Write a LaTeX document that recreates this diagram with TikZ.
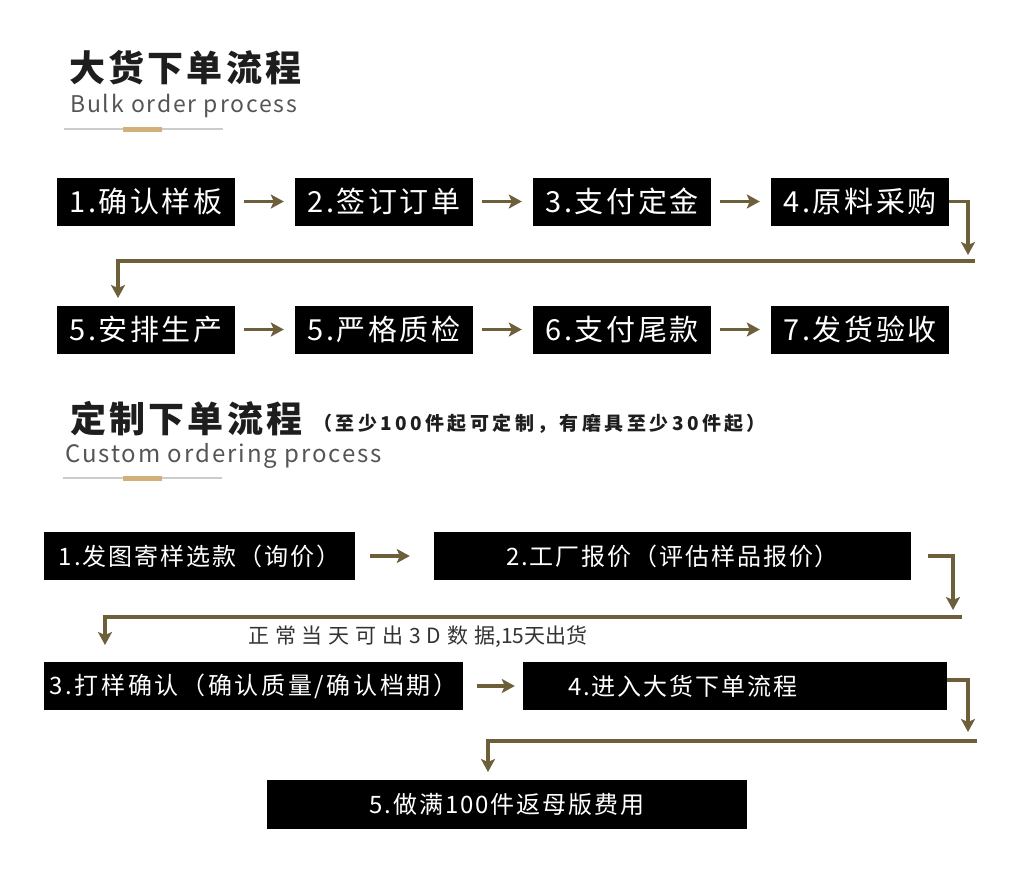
\documentclass[tikz,border=0pt]{standalone}
\usepackage{fontspec}
\usepackage{tikz}
\usetikzlibrary{arrows.meta}
\setmainfont{Noto Sans CJK SC}
\newfontfamily\titlefont[LetterSpace=9]{Noto Sans CJK SC}
\newfontfamily\subfont[LetterSpace=8]{Noto Sans CJK SC}
\newfontfamily\boxfont[LetterSpace=9]{Noto Sans CJK SC}
\newfontfamily\wideboxfont[LetterSpace=8]{Noto Sans CJK SC}
\newfontfamily\widerboxfont[LetterSpace=11]{Noto Sans CJK SC}
\newfontfamily\notefont[LetterSpace=28]{Noto Sans CJK SC}
\newfontfamily\parenfont[LetterSpace=18]{Noto Sans CJK SC}
\definecolor{flowbrown}{HTML}{6E5F3B}
\definecolor{titleblack}{HTML}{1E1E1E}
\definecolor{subgray}{HTML}{555555}
\definecolor{rulegray}{HTML}{CCCCCC}
\definecolor{rulegold}{HTML}{D2B07A}
\definecolor{notegray}{HTML}{333333}

\begin{document}
\begin{tikzpicture}[x=1pt, y=-1pt,
  flow/.style={-{Stealth[length=13pt, width=14pt, inset=3pt]}, line width=3.5pt, flowbrown},
  bulkbox/.style={fill=black, text=white, inner sep=0pt, minimum width=178pt, minimum height=48pt, font=\boxfont\fontsize{29}{31}\selectfont},
  custombox/.style={fill=black, text=white, inner sep=0pt, minimum height=48pt, font=\wideboxfont\fontsize{24}{26}\selectfont}]
% Draw page
\fill[white] (0,0) rectangle (1024,868);
\useasboundingbox (0,0) rectangle (1024,868);
% Draw bulk order header
\node[anchor=base west, inner sep=0pt, text=titleblack, font=\titlefont\fontsize{36}{38}\selectfont\bfseries] (bulktitle) at (69,81) {大货下单流程};
\node[anchor=base west, inner sep=0pt, text=subgray, font=\subfont\fontsize{23}{25}\selectfont] (bulksub) at (70,112) {Bulk order process};
\draw[line width=1.5pt, rulegray] (64,129) -- (223,129);
\fill[rulegold] (123,126.5) rectangle (162,131.5);
% Draw bulk order steps
\foreach \i/\x/\t in {1/146/1.确认样板, 2/384/2.签订订单, 3/622/3.支付定金, 4/860/4.原料采购}
    \node[bulkbox] (b\i) at (\x,201.5) {\t};
\foreach \i/\x/\t in {5/146/5.安排生产, 6/384/5.严格质检, 7/622/6.支付尾款, 8/860/7.发货验收}
    \node[bulkbox] (b\i) at (\x,329.5) {\t};
% Draw bulk order arrows
\foreach \a/\b in {1/2,2/3,3/4,5/6,6/7,7/8}
    \draw[flow, shorten <=9pt, shorten >=11pt] (b\a.east) -- (b\b.west);
\coordinate (bturn) at (968,255);
\draw[flow] (b4.east) -| (bturn);
\coordinate (bback) at (975,261);
\coordinate (bdrop) at (118,298);
\draw[flow] (bback) -| (bdrop);
% Draw custom order header
\node[anchor=base west, inner sep=0pt, text=titleblack, font=\titlefont\fontsize{36}{38}\selectfont\bfseries] (customtitle) at (70,432) {定制下单流程};
\node[anchor=base west, inner sep=0pt, text=titleblack, font=\parenfont\fontsize{19}{21}\selectfont\bfseries] (customnote) at (313,430) {（至少100件起可定制，有磨具至少30件起）};
\node[anchor=base west, inner sep=0pt, text=subgray, font=\subfont\fontsize{24}{26}\selectfont] (customsub) at (65,462) {Custom ordering process};
\draw[line width=1.5pt, rulegray] (63,478) -- (222,478);
\fill[rulegold] (123,475.5) rectangle (162,480.5);
% Draw custom order steps
\node[custombox, minimum width=311pt] (c1) at (199.5,556) {1.发图寄样选款（询价）};
\node[custombox, minimum width=477pt] (c2) at (672.5,556) {2.工厂报价（评估样品报价）};
\node[custombox, minimum width=419pt, font=\widerboxfont\fontsize{24}{26}\selectfont] (c3) at (253.5,686) {3.打样确认（确认质量/确认档期）};
\node[custombox, minimum width=424pt, text width=334pt, inner xsep=45pt, align=left] (c4) at (735,686) {4.进入大货下单流程};
\node[custombox, minimum width=480pt, minimum height=49pt] (c5) at (507,804.5) {5.做满100件返母版费用};
\node[anchor=base west, inner sep=0pt, text=notegray, font=\fontsize{21}{23}\selectfont] (leadtime) at (248,643) {{\notefont 正常当天可出3D数据},15天出货};
% Draw custom order arrows
\draw[flow, shorten <=15pt, shorten >=24pt] (c1.east) -- (c2.west);
\coordinate (cturn1) at (953,610);
\draw[flow] ([xshift=17pt]c2.east) -| (cturn1);
\coordinate (cback1) at (962,617);
\coordinate (cdrop1) at (105,645);
\draw[flow] (cback1) -| (cdrop1);
\draw[flow, shorten <=14pt, shorten >=8pt] (c3.east) -- (c4.west);
\coordinate (cturn2) at (968,732);
\draw[flow] ([yshift=6pt]c4.east) -| (cturn2);
\coordinate (cback2) at (977,741);
\coordinate (cdrop2) at (488,772);
\draw[flow] (cback2) -| (cdrop2);
\end{tikzpicture}
\end{document}
